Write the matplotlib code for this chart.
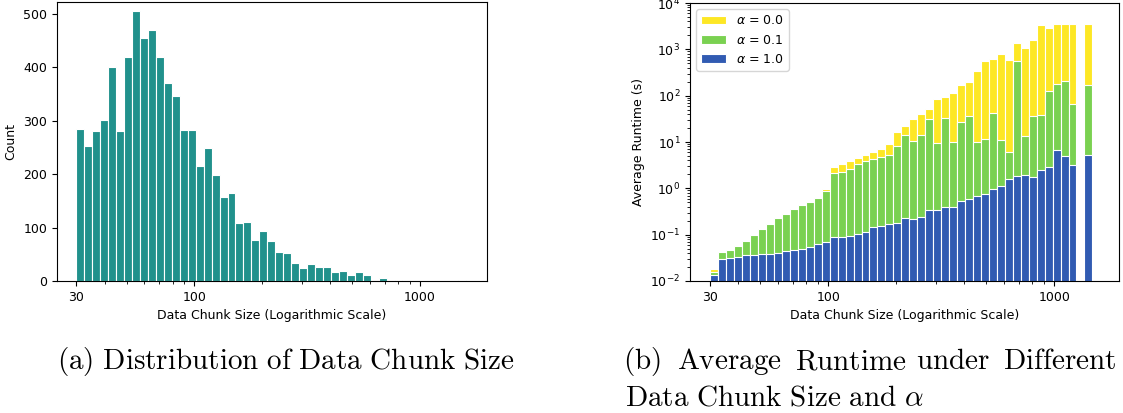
import numpy as np
import matplotlib
matplotlib.use("Agg")
import matplotlib.pyplot as plt
from matplotlib.ticker import ScalarFormatter

plt.rcParams["font.size"] = 9

# log-spaced chunk-size bins (30 .. 1600)
edges = np.logspace(np.log10(30), np.log10(1600), 50)

# (a) counts per bin
counts = [285, 253, 281, 301, 400, 280, 420, 505, 455, 470,
          420, 371, 347, 282, 283, 215, 248, 198, 158, 164,
          109, 110, 76, 94, 75, 55, 52, 34, 25, 32,
          27, 27, 17, 18, 12, 17, 11, 0, 6, 0,
          1, 2, 0, 0, 0, 0, 0, 0, 1]

# (b) average runtime (s) per bin
rt_a00 = [0.0181, 0.0415, 0.0466, 0.0568, 0.0728, 0.098, 0.132, 0.169, 0.228, 0.278,
          0.356, 0.435, 0.505, 0.615, 0.96, 2.86, 3.32, 3.86, 4.48, 5.2,
          6.03, 7.0, 9.27, 16.3, 21.9, 31.0, 39.7, 51, 83.5, 92.4,
          113, 167, 194, 336, 551, 608, 780, 580, 1347, 1051,
          1563, 3290, 2838, 3600, 3600, 3600, np.nan, 3600]
rt_a01 = [0.0156, 0.0415, 0.0466, 0.0568, 0.0728, 0.098, 0.132, 0.169, 0.228, 0.278,
          0.356, 0.435, 0.505, 0.615, 0.87, 2.13, 2.23, 2.59, 3.33, 3.86,
          4.26, 4.79, 5.2, 8.1, 14.0, 10.4, 14.0, 31.0, 9.4, 32.6,
          9.9, 26.7, 36.0, 9.9, 11.5, 41.8, 10.9, 6.03, 551, 13.3,
          36.0, 37.9, 124, 176, 204, 65.3, np.nan, 167]
rt_a10 = [0.0135, 0.0298, 0.0318, 0.0329, 0.0363, 0.0363, 0.0382, 0.0382, 0.0401, 0.0443,
          0.0473, 0.0490, 0.0541, 0.0627, 0.0693, 0.0887, 0.0887, 0.0933, 0.103, 0.114,
          0.146, 0.153, 0.169, 0.178, 0.228, 0.217, 0.239, 0.339, 0.339, 0.394,
          0.394, 0.53, 0.585, 0.679, 0.75, 0.96, 1.11, 1.58, 1.83, 1.92,
          1.74, 2.47, 2.86, 6.65, 4.94, 3.16, np.nan, 5.2]

fig = plt.figure(figsize=(11.23, 4.13), dpi=100)

# (a) histogram
ax1 = fig.add_axes([57 / 1123, 1 - 281 / 413, 430 / 1123, 279 / 413])
ax1.bar(edges[:-1], counts, width=np.diff(edges), align="edge",
        color="#21918c", edgecolor="white", linewidth=0.8)
ax1.set_xscale("log")
ax1.set_xlim(24.6, 1980)
ax1.set_ylim(0, 522)
ax1.set_xticks([30, 100, 1000])
ax1.xaxis.set_major_formatter(ScalarFormatter())
ax1.set_xlabel("Data Chunk Size (Logarithmic Scale)")
ax1.set_ylabel("Count")

# (b) runtime, bars overlapped per alpha
n = len(rt_a00)
x = edges[:n]
w = np.diff(edges)[:n]
ax2 = fig.add_axes([690 / 1123, 1 - 281 / 413, 429 / 1123, 278 / 413])
ax2.bar(x, rt_a00, width=w, align="edge", color="#fde725",
        edgecolor="white", linewidth=0.8, label=r"$\alpha$ = 0.0")
ax2.bar(x, rt_a01, width=w, align="edge", color="#7ad151",
        edgecolor="white", linewidth=0.8, label=r"$\alpha$ = 0.1")
ax2.bar(x, rt_a10, width=w, align="edge", color="#315bb2",
        edgecolor="white", linewidth=0.8, label=r"$\alpha$ = 1.0")
ax2.set_xscale("log")
ax2.set_yscale("log")
ax2.set_xlim(24.4, 1935)
ax2.set_ylim(1e-2, 1e4)
ax2.set_xticks([30, 100, 1000])
ax2.xaxis.set_major_formatter(ScalarFormatter())
ax2.set_xlabel("Data Chunk Size (Logarithmic Scale)")
ax2.set_ylabel("Average Runtime (s)")
ax2.legend(loc="upper left")

# captions (latex-like, justified first line of (b))
cap = dict(fontsize=21, va="baseline", ha="left", math_fontfamily="cm")
fig.text(57 / 1123, 1 - 369 / 413, r"$\mathrm{(a)\ Distribution\ of\ Data\ Chunk\ Size}$", **cap)
words_b = [r"$\mathrm{(b)}$", r"$\mathrm{Average}$", r"$\mathrm{Runtime}$",
           r"$\mathrm{under}$", r"$\mathrm{Different}$"]
xpos_b = [623, 677, 795, 916, 1003]
for wd, xp in zip(words_b, xpos_b):
    fig.text(xp / 1123, 1 - 369 / 413, wd, **cap)
fig.text(625 / 1123, 1 - 405 / 413, r"$\mathrm{Data\ Chunk\ Size\ and\ }\alpha$", **cap)

plt.savefig("out.png", dpi=100)
